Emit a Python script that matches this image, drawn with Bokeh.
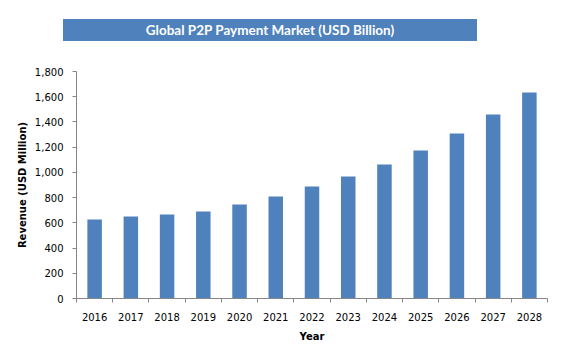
from bokeh.plotting import figure
from bokeh.models import (Range1d, FixedTicker, NumeralTickFormatter, Div, ColumnDataSource)
from bokeh.layouts import column
from bokeh.embed import file_html
from bokeh.resources import INLINE

title_text = "Global P2P Payment Market (USD Billion)"
years = [2016, 2017, 2018, 2019, 2020, 2021, 2022, 2023, 2024, 2025, 2026, 2027, 2028]
revenue = [626, 650, 666, 690, 745, 809, 888, 967, 1062, 1174, 1308, 1459, 1634]
y_ticks = [0, 200, 400, 600, 800, 1000, 1200, 1400, 1600, 1800]

BLUE = "#4f81bd"
AXIS = "#868686"

div = Div(
    text=title_text,
    width=414, height=22,
    margin=(19, 0, 0, 63),
    styles={
        "background-color": BLUE,
        "color": "white",
        "font-family": "Lato",
        "font-weight": "bold",
        "font-size": "13.5px",
        "text-align": "center",
        "line-height": "22px",
        "width": "414px",
        "height": "22px",
    },
)

src = ColumnDataSource(dict(year=years, revenue=revenue))

p = figure(width=570, height=314, output_backend="svg", toolbar_location=None,
           x_range=Range1d(years[0] - 0.5, years[-1] + 0.5),
           y_range=Range1d(0, 1800),
           min_border_left=76, min_border_right=23, min_border_top=30, min_border_bottom=57)
p.margin = (0, 0, 0, 0)
p.outline_line_color = None
p.xgrid.visible = False
p.ygrid.visible = False

p.vbar(x="year", top="revenue", width=0.4, source=src, fill_color=BLUE, line_color=None)

boundaries = [y - 0.5 for y in years] + [years[-1] + 0.5]
p.xaxis.ticker = FixedTicker(ticks=years, minor_ticks=boundaries)
p.xaxis.major_tick_line_color = None
p.xaxis.minor_tick_line_color = AXIS
p.xaxis.minor_tick_out = 4
p.xaxis.minor_tick_in = 0
p.xaxis.axis_line_color = AXIS
p.xaxis.major_label_overrides = {y: str(y) for y in years}
p.xaxis.major_label_standoff = 8
p.xaxis.axis_label = "Year"

p.yaxis.ticker = FixedTicker(ticks=y_ticks)
p.yaxis.formatter = NumeralTickFormatter(format="0,0")
p.yaxis.minor_tick_line_color = None
p.yaxis.major_tick_line_color = AXIS
p.yaxis.major_tick_out = 4
p.yaxis.major_tick_in = 0
p.yaxis.axis_line_color = AXIS
p.yaxis.major_label_standoff = 9
p.yaxis.axis_label = "Revenue (USD Million)"

for ax in (p.xaxis, p.yaxis):
    ax.major_label_text_font = "DejaVu Sans"
    ax.major_label_text_font_size = "10px"
    ax.major_label_text_color = "#000000"
    ax.axis_label_text_font = "DejaVu Sans"
    ax.axis_label_text_font_style = "bold"
    ax.axis_label_text_font_size = "10px"
    ax.axis_label_text_color = "#000000"
p.xaxis.axis_label_standoff = 7
p.yaxis.axis_label_standoff = 4

layout = column(div, p, spacing=0)
open("out.html", "w").write(file_html(layout, INLINE))
